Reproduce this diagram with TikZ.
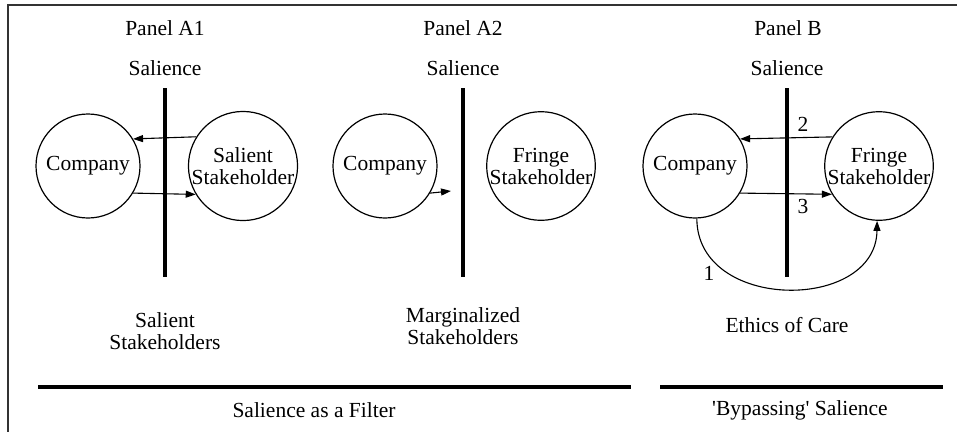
\documentclass[tikz,border=0pt]{standalone}
\usepackage{fontspec}
\setmainfont{Liberation Serif}
\usetikzlibrary{arrows.meta}
\begin{document}
\begin{tikzpicture}[x=1pt,y=-1pt,
  every node/.style={font=\fontsize{21.5}{22}\selectfont, inner sep=0pt},
  party/.style={circle, draw, line width=1.2pt, minimum size=104pt, align=center},
  label text/.style={align=center},
  barline/.style={line width=4pt},
  flow/.style={line width=1.1pt, -{Triangle[length=10pt,width=7pt]}},
  frameline/.style={line width=1.6pt, draw=black!80}
]
\useasboundingbox (0,0) rectangle (957,432);

% frame along the top and the left edge
\draw[frameline] (957,5) -- (8,5) -- (8,432);

% ---------- Panel A1 ----------
\node (tA1) at (165,28) {Panel A1};
\node (sA1) at (165,68) {Salience};
\coordinate (barA1top) at (165,88);
\coordinate (barA1bot) at (165,277);
\draw[barline] (barA1top) -- (barA1bot);
\node[party] (coA1) at (88,166) {Company};
\node[party] (stA1) at (243,166) {Salient\\Stakeholder};
\draw[flow] (stA1.148.7) -- (coA1.31.3);
\draw[flow] (coA1.-31.3) -- (stA1.211.3);
\node[label text] (lA1) at (165,331) {Salient\\Stakeholders};

% ---------- Panel A2 ----------
\node (tA2) at (463,28) {Panel A2};
\node (sA2) at (463,68) {Salience};
\coordinate (barA2top) at (463,88);
\coordinate (barA2bot) at (463,277);
\draw[barline] (barA2top) -- (barA2bot);
\node[party] (coA2) at (385,166) {Company};
\node[party] (stA2) at (541,166) {Fringe\\Stakeholder};
\coordinate (stopA2) at (451,191);
\draw[flow] (coA2.-31.3) -- (stopA2);
\node[label text] (lA2) at (463,326) {Marginalized\\Stakeholders};

% ---------- Panel B ----------
\node (tB) at (788,28) {Panel B};
\node (sB) at (787,68) {Salience};
\coordinate (barBtop) at (787,88);
\coordinate (barBbot) at (787,277);
\draw[barline] (barBtop) -- (barBbot);
\node[party] (coB) at (695,166) {Company};
\node[party] (stB) at (879,166) {Fringe\\Stakeholder};
\draw[flow] (stB.148.7) -- (coB.31.3);
\draw[flow] (coB.-31.3) -- (stB.211.3);
\draw[flow] (coB.-88) .. controls (697,312) and (876,312) .. (stB.-92);
\node (n2) at (803,124) {2};
\node (n3) at (803,206) {3};
\node (n1) at (709,273) {1};
\node (lB) at (787,325) {Ethics of Care};

% ---------- group rules and captions ----------
\coordinate (ruleAl) at (38,387);
\coordinate (ruleAr) at (631,387);
\coordinate (ruleBl) at (660,387);
\coordinate (ruleBr) at (943,387);
\draw[barline] (ruleAl) -- (ruleAr);
\draw[barline] (ruleBl) -- (ruleBr);
\node (capA) at (314,410) {Salience as a Filter};
\node (capB) at (800,410) {\textquotesingle Bypassing\textquotesingle\ Salience};
\end{tikzpicture}
\end{document}
